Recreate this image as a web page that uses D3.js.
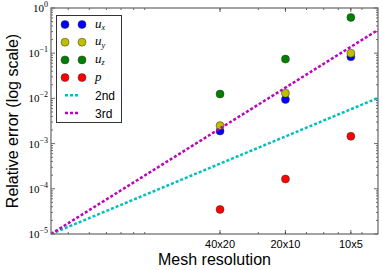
<!DOCTYPE html>
<html lang="en">
    <head>
        <meta charset="UTF-8">
        <title>Convergence</title>
        <script src="https://d3js.org/d3.v7.min.js"></script>
        <style>
            html, body {
                margin: 0;
                background-color: white;
            }
            svg {
                display: block;
            }
        </style>
    </head>
    <body>
        <div id="chart"></div>
        <script>

            // mesh size (arbitrary units, log axis) and labels
            const meshLabels = ["40x20", "20x10", "10x5"];
            const meshSize = [2, 4, 8];

            // relative errors
            const errUx = [0.0019, 0.0095, 0.083];
            const errUy = [0.0025, 0.013, 0.10];
            const errUz = [0.0125, 0.074, 0.62];
            const errP = [3.5e-5, 1.65e-4, 1.45e-3];

            // reference slopes start from the lower-left corner
            const refStart = [1 / 3, 1e-5];
            const refOrders = [2, 3];
            const refNames = ["2nd", "3rd"];

            const yTickExp = [0, -1, -2, -3, -4, -5];

            const width = 382;
            const height = 270;
            const margin = {top: 8, right: 4, bottom: 36, left: 51};

            const series = [
                {name: "x", values: errUx, color: "#0000ff"},
                {name: "y", values: errUy, color: "#bfbf00"},
                {name: "z", values: errUz, color: "#008000"},
                {name: "p", values: errP, color: "#ff0000"}
            ];
            const refColors = ["#00bfbf", "#bf00bf"];

            const x = d3.scaleLog()
                .domain([1 / 3, 32 / 3])
                .range([margin.left, width - margin.right]);

            const y = d3.scaleLog()
                .domain([1e-5, 1])
                .range([height - margin.bottom, margin.top]);

            const svg = d3.select("#chart")
                .append("svg")
                .attr("width", width)
                .attr("height", height);

            const x0 = margin.left, x1 = width - margin.right;
            const y0 = margin.top, y1 = height - margin.bottom;

            svg.append("clipPath").attr("id", "clip")
                .append("rect")
                .attr("x", x0).attr("y", y0)
                .attr("width", x1 - x0).attr("height", y1 - y0);

            // minor ticks
            const xMinor = [];
            [0.1, 1].forEach(dec => {
                for (let k = 2; k <= 9; k++) {
                    const v = k * dec;
                    if (v > x.domain()[0] && v < x.domain()[1]) xMinor.push(v);
                }
            });
            const yMinor = [];
            for (let e = -5; e < 0; e++) {
                for (let k = 2; k <= 9; k++) yMinor.push(k * Math.pow(10, e));
            }

            const ticks = svg.append("g")
                .attr("stroke", "#000")
                .attr("stroke-width", 0.6);

            xMinor.forEach(v => {
                ticks.append("line").attr("x1", x(v)).attr("x2", x(v)).attr("y1", y1).attr("y2", y1 - 2);
                ticks.append("line").attr("x1", x(v)).attr("x2", x(v)).attr("y1", y0).attr("y2", y0 + 2);
            });
            meshSize.forEach(v => {
                ticks.append("line").attr("x1", x(v)).attr("x2", x(v)).attr("y1", y1).attr("y2", y1 - 4);
                ticks.append("line").attr("x1", x(v)).attr("x2", x(v)).attr("y1", y0).attr("y2", y0 + 4);
            });
            yMinor.forEach(v => {
                ticks.append("line").attr("x1", x0).attr("x2", x0 + 2).attr("y1", y(v)).attr("y2", y(v));
                ticks.append("line").attr("x1", x1).attr("x2", x1 - 2).attr("y1", y(v)).attr("y2", y(v));
            });
            yTickExp.forEach(e => {
                const v = Math.pow(10, e);
                ticks.append("line").attr("x1", x0).attr("x2", x0 + 4).attr("y1", y(v)).attr("y2", y(v));
                ticks.append("line").attr("x1", x1).attr("x2", x1 - 4).attr("y1", y(v)).attr("y2", y(v));
            });

            // data points
            const plot = svg.append("g").attr("clip-path", "url(#clip)");

            series.forEach(s => {
                plot.selectAll(null)
                    .data(s.values)
                    .enter().append("circle")
                    .attr("cx", (d, i) => x(meshSize[i]))
                    .attr("cy", d => y(d))
                    .attr("r", 4)
                    .attr("fill", s.color)
                    .attr("stroke", "#333")
                    .attr("stroke-width", 0.5);
            });

            // reference slopes
            const line = d3.line().x(d => x(d[0])).y(d => y(d[1]));
            refOrders.forEach((p, i) => {
                const hEnd = x.domain()[1];
                const pts = [refStart, [hEnd, refStart[1] * Math.pow(hEnd / refStart[0], p)]];
                plot.append("path")
                    .attr("d", line(pts))
                    .attr("fill", "none")
                    .attr("stroke", refColors[i])
                    .attr("stroke-width", 2.5)
                    .attr("stroke-dasharray", "3,2");
            });

            // frame
            svg.append("rect")
                .attr("x", x0).attr("y", y0)
                .attr("width", x1 - x0).attr("height", y1 - y0)
                .attr("fill", "none")
                .attr("stroke", "#666")
                .attr("stroke-width", 1.2);

            // x tick labels
            svg.selectAll(".xlab")
                .data(meshLabels)
                .enter().append("text")
                .attr("x", (d, i) => x(meshSize[i]))
                .attr("y", y1 + 14)
                .attr("text-anchor", "middle")
                .attr("font-family", "Liberation Sans, Arial, sans-serif")
                .attr("font-size", 11)
                .text(d => d);

            // y tick labels
            yTickExp.forEach(e => {
                const t = svg.append("text")
                    .attr("x", x0 - 3)
                    .attr("y", y(Math.pow(10, e)) + 4)
                    .attr("text-anchor", "end")
                    .attr("font-family", "Liberation Serif, DejaVu Serif, serif")
                    .attr("font-size", 11);
                t.append("tspan").text("10");
                t.append("tspan")
                    .attr("font-size", 8)
                    .attr("dy", -5)
                    .text(e === 0 ? "0" : "\u2212" + (-e));
            });

            // axis titles
            svg.append("text")
                .attr("x", (x0 + x1) / 2)
                .attr("y", 265)
                .attr("text-anchor", "middle")
                .attr("font-family", "Liberation Sans, Arial, sans-serif")
                .attr("font-size", 16)
                .text("Mesh resolution");

            svg.append("text")
                .attr("transform", `translate(18, ${(y0 + y1) / 2}) rotate(-90)`)
                .attr("text-anchor", "middle")
                .attr("font-family", "Liberation Sans, Arial, sans-serif")
                .attr("font-size", 16)
                .text("Relative error (log scale)");

            // legend
            const lg = svg.append("g");
            lg.append("rect")
                .attr("x", 56.5).attr("y", 15.5)
                .attr("width", 65).attr("height", 107)
                .attr("fill", "white")
                .attr("stroke", "#333")
                .attr("stroke-width", 1);

            const rowY = i => 24.5 + i * 17.7;
            series.forEach((s, i) => {
                [65, 82].forEach(cx => {
                    lg.append("circle")
                        .attr("cx", cx).attr("cy", rowY(i))
                        .attr("r", 4)
                        .attr("fill", s.color)
                        .attr("stroke", "#333")
                        .attr("stroke-width", 0.5);
                });
                const t = lg.append("text")
                    .attr("x", 95)
                    .attr("y", rowY(i) + 3)
                    .attr("font-family", "Liberation Serif, DejaVu Serif, serif")
                    .attr("font-style", "italic")
                    .attr("font-size", 13);
                if (s.name === "p") {
                    t.text("p");
                } else {
                    t.append("tspan").text("u");
                    t.append("tspan").attr("font-size", 8).attr("dy", 2.5).text(s.name);
                }
            });
            refNames.forEach((n, i) => {
                const yy = rowY(4 + i);
                lg.append("line")
                    .attr("x1", 65).attr("x2", 80)
                    .attr("y1", yy).attr("y2", yy)
                    .attr("stroke", refColors[i])
                    .attr("stroke-width", 2.5)
                    .attr("stroke-dasharray", "3,2");
                lg.append("text")
                    .attr("x", 95)
                    .attr("y", yy + 4.5)
                    .attr("font-family", "Liberation Sans, Arial, sans-serif")
                    .attr("font-size", 12)
                    .text(n);
            });

        </script>
    </body>
</html>
